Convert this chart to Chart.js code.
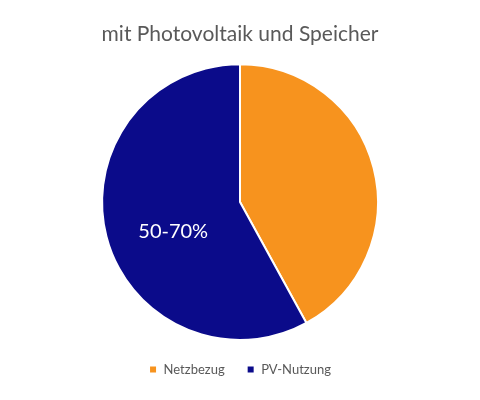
<!DOCTYPE html>
<html lang="de">
<head>
    <meta charset="utf-8" />
    <title>mit Photovoltaik und Speicher</title>
    <script src="https://cdn.jsdelivr.net/npm/chart.js"></script>
    <style>
        html, body { margin: 0; padding: 0; background: #fff; }
        #wrap { width: 480px; height: 400px; }
    </style>
</head>
<body>
    <div id="wrap"><canvas id="pieChart"></canvas></div>
    <script>
        const labels = ['Netzbezug', 'PV-Nutzung'];
        const values = [42, 58];
        const sliceLabels = ['', '50-70%'];
        const colors = ['#F7931E', '#0B0B8A'];

        // Beschriftung mitten im Segment
        const sliceText = {
            id: 'sliceText',
            afterDatasetsDraw(chart) {
                const ctx = chart.ctx;
                chart.getDatasetMeta(0).data.forEach((arc, i) => {
                    if (!sliceLabels[i]) return;
                    const p = arc.tooltipPosition();
                    ctx.save();
                    ctx.fillStyle = '#fff';
                    ctx.font = '20px Lato, "Open Sans", sans-serif';
                    ctx.textAlign = 'center';
                    ctx.textBaseline = 'middle';
                    ctx.fillText(sliceLabels[i], p.x, p.y + 12);
                    ctx.restore();
                });
            }
        };

        new Chart(document.getElementById('pieChart'), {
            type: 'pie',
            data: {
                labels: labels,
                datasets: [{
                    data: values,
                    backgroundColor: colors,
                    borderColor: '#fff',
                    borderWidth: 2
                }]
            },
            options: {
                responsive: true,
                maintainAspectRatio: false,
                animation: false,
                layout: { padding: { top: 4, bottom: 14 } },
                plugins: {
                    title: {
                        display: true,
                        text: 'mit Photovoltaik und Speicher',
                        color: '#595959',
                        font: { size: 21, family: 'Lato, "Open Sans", sans-serif', weight: 'normal' },
                        padding: { top: 18, bottom: 16 }
                    },
                    legend: {
                        position: 'bottom',
                        labels: {
                            color: '#595959',
                            boxWidth: 8,
                            boxHeight: 8,
                            padding: 22,
                            font: { size: 13, family: 'Lato, "Open Sans", sans-serif' }
                        }
                    },
                    tooltip: { enabled: false }
                }
            },
            plugins: [sliceText]
        });
    </script>
</body>
</html>
